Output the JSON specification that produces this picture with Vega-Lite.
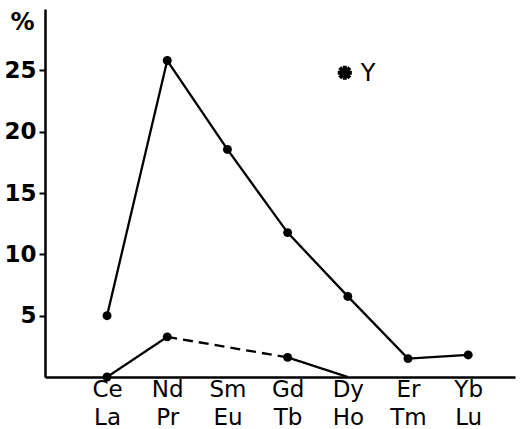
{
  "$schema": "https://vega.github.io/schema/vega-lite/v6.json",
  "width": 470,
  "height": 368,
  "autosize": {"type": "none"},
  "padding": {"left": 45, "top": 9, "right": 9, "bottom": 52},
  "background": "white",
  "config": {
    "view": {"stroke": null},
    "axis": {
      "grid": false,
      "domainColor": "black",
      "domainWidth": 2.5,
      "tickColor": "black",
      "tickWidth": 2,
      "labelColor": "black",
      "labelFont": "DejaVu Sans",
      "labelFontSize": 23,
      "titleFont": "DejaVu Sans",
      "titleColor": "black"
    }
  },
  "datasets": {
    "upper": [
      {"pair": "Ce/La", "value": 5.0},
      {"pair": "Nd/Pr", "value": 25.8},
      {"pair": "Sm/Eu", "value": 18.55},
      {"pair": "Gd/Tb", "value": 11.77},
      {"pair": "Dy/Ho", "value": 6.57},
      {"pair": "Er/Tm", "value": 1.5},
      {"pair": "Yb/Lu", "value": 1.8}
    ],
    "lower": [
      {"pair": "Ce/La", "value": 0, "seg": "a", "style": "solid"},
      {"pair": "Nd/Pr", "value": 3.27, "seg": "a", "style": "solid"},
      {"pair": "Nd/Pr", "value": 3.27, "seg": "b", "style": "dashed"},
      {"pair": "Gd/Tb", "value": 1.6, "seg": "b", "style": "dashed"},
      {"pair": "Gd/Tb", "value": 1.6, "seg": "c", "style": "solid"},
      {"pair": "Dy/Ho", "value": 0, "seg": "c", "style": "solid"}
    ],
    "lowerPoints": [
      {"pair": "Ce/La", "value": 0},
      {"pair": "Nd/Pr", "value": 3.27},
      {"pair": "Gd/Tb", "value": 1.6}
    ],
    "yttrium": [
      {"pair": "Dy/Ho", "value": 24.8, "label": "Y"}
    ]
  },
  "encoding": {
    "x": {
      "field": "pair",
      "type": "nominal",
      "sort": ["Ce/La", "Nd/Pr", "Sm/Eu", "Gd/Tb", "Dy/Ho", "Er/Tm", "Yb/Lu"],
      "scale": {"type": "point", "padding": 0.904, "align": 0.57},
      "axis": {
        "title": null,
        "ticks": false,
        "labelAngle": 0,
        "labelPadding": 1,
        "labelLineHeight": 28,
        "labelBaseline": "top",
        "labelExpr": "split(datum.value, '/')"
      }
    },
    "y": {
      "field": "value",
      "type": "quantitative",
      "scale": {"domain": [0, 30], "nice": false},
      "axis": {
        "values": [5, 10, 15, 20, 25],
        "tickSize": 6,
        "labelPadding": 3,
        "labelFontWeight": "bold",
        "title": "%",
        "titleAngle": 0,
        "titleAlign": "center",
        "titleBaseline": "middle",
        "titleX": -23,
        "titleY": 13,
        "titleFontSize": 24,
        "titleFontWeight": "bold"
      }
    }
  },
  "layer": [
    {
      "data": {"name": "upper"},
      "mark": {"type": "line", "color": "black", "strokeWidth": 2.3}
    },
    {
      "data": {"name": "upper"},
      "mark": {"type": "point", "filled": true, "color": "black", "size": 80, "opacity": 1}
    },
    {
      "data": {"name": "lower"},
      "mark": {"type": "line", "color": "black", "strokeWidth": 2.3},
      "encoding": {
        "detail": {"field": "seg"},
        "strokeDash": {
          "field": "style",
          "type": "nominal",
          "scale": {"domain": ["solid", "dashed"], "range": [[1, 0], [10, 6]]},
          "legend": null
        }
      }
    },
    {
      "data": {"name": "lowerPoints"},
      "mark": {"type": "point", "filled": true, "color": "black", "size": 80, "opacity": 1}
    },
    {
      "data": {"name": "yttrium"},
      "mark": {
        "type": "point",
        "shape": "M-1,0L1,0M0,-1L0,1M-0.72,-0.72L0.72,0.72M-0.72,0.72L0.72,-0.72",
        "size": 200,
        "stroke": "black",
        "strokeWidth": 4,
        "opacity": 1,
        "xOffset": -3
      }
    },
    {
      "data": {"name": "yttrium"},
      "mark": {"type": "text", "align": "left", "baseline": "middle", "dx": 13, "dy": 1, "font": "DejaVu Sans", "fontSize": 24, "color": "black"},
      "encoding": {"text": {"field": "label"}}
    }
  ]
}
